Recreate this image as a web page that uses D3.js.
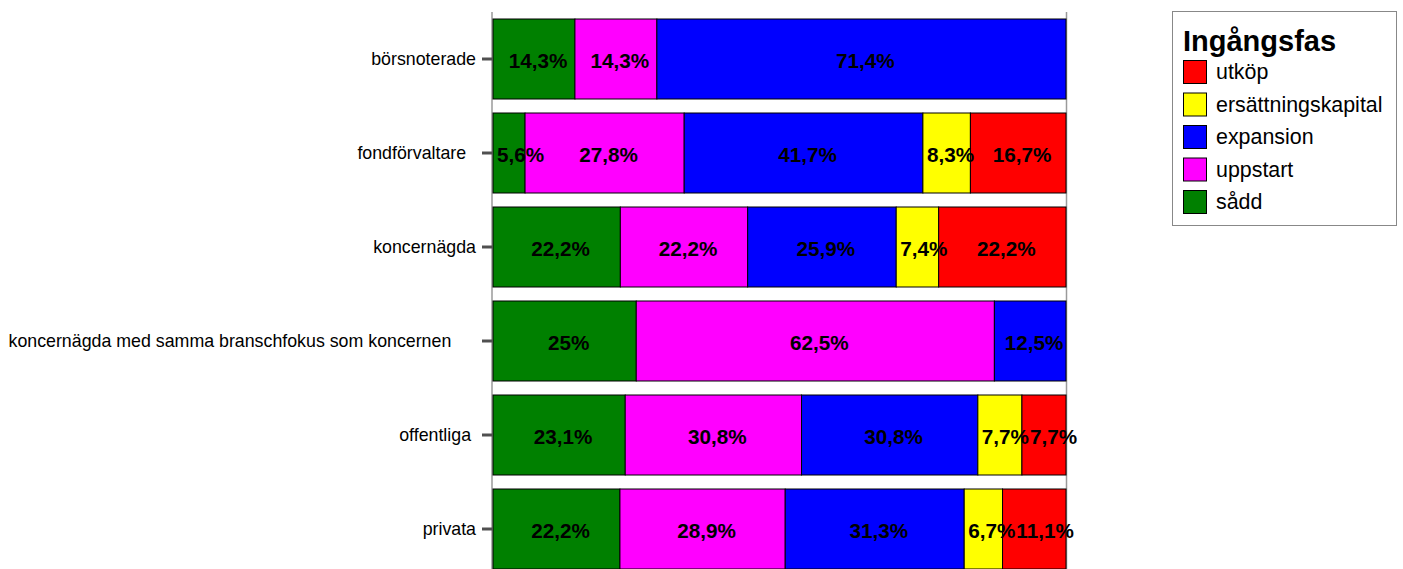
<!DOCTYPE html>
<html>
<head>
<meta charset="utf-8">
<script src="https://cdn.jsdelivr.net/npm/d3@7"></script>
<style>
  html, body { margin: 0; padding: 0; background: #fff; }
  svg { display: block; font-family: Arial, "Liberation Sans", Helvetica, sans-serif; }
  text { white-space: pre; }
</style>
</head>
<body>
<svg id="chart" width="1403" height="569"></svg>
<script>
// Categories (with the trailing padding their labels carry)
const categories = [
  "börsnoterade",
  "fondförvaltare  ",
  "koncernägda",
  "koncernägda med samma branschfokus som koncernen     ",
  "offentliga ",
  "privata"
];

// Phases, stacked left to right
const phases = ["sådd", "uppstart", "expansion", "ersättningskapital", "utköp"];
const phaseColors = ["#008000", "#ff00ff", "#0000ff", "#ffff00", "#ff0000"];

// Share (%) of each phase per category
const sadd        = [14.3,  5.6, 22.2, 25.0, 23.1, 22.2];
const uppstart    = [14.3, 27.8, 22.2, 62.5, 30.8, 28.9];
const expansion   = [71.4, 41.7, 25.9, 12.5, 30.8, 31.3];
const ersattning  = [ 0.0,  8.3,  7.4,  0.0,  7.7,  6.7];
const utkop       = [ 0.0, 16.7, 22.2,  0.0,  7.7, 11.1];

// Legend order (top to bottom)
const legendOrder = ["utköp", "ersättningskapital", "expansion", "uppstart", "sådd"];
const legendTitle = "Ingångsfas";

const seriesValues = [sadd, uppstart, expansion, ersattning, utkop];
const rows = categories.map((c, i) => {
  const r = { cat: c };
  phases.forEach((p, j) => { r[p] = seriesValues[j][i]; });
  return r;
});

const svg = d3.select("#chart");
const color = d3.scaleOrdinal().domain(phases).range(phaseColors);

const x = d3.scaleLinear().domain([0, 1]).range([493, 1066]);
const y = d3.scaleBand().domain(categories).range([12, 576])
  .paddingInner(14 / 94).paddingOuter(7 / 94);

const stack = d3.stack().keys(phases).offset(d3.stackOffsetExpand);
const layers = stack(rows);

// frame lines
svg.append("line").attr("x1", 492).attr("x2", 492).attr("y1", 12).attr("y2", 569)
  .attr("stroke", "#9a9a9a").attr("stroke-width", 1.5);
svg.append("line").attr("x1", 1066.5).attr("x2", 1066.5).attr("y1", 12).attr("y2", 569)
  .attr("stroke", "#9a9a9a").attr("stroke-width", 1.5);

// bars
const g = svg.append("g");
layers.forEach(layer => {
  g.append("g").selectAll("rect")
    .data(layer.filter(d => d[1] - d[0] > 0))
    .join("rect")
    .attr("x", d => x(d[0]))
    .attr("y", d => y(d.data.cat))
    .attr("width", d => x(d[1]) - x(d[0]))
    .attr("height", y.bandwidth())
    .attr("fill", color(layer.key))
    .attr("stroke", "#000")
    .attr("stroke-width", 1);
});

// category axis
const axis = d3.axisLeft(y).tickSize(11).tickPadding(6);
const ax = svg.append("g").attr("transform", "translate(493,0)").call(axis);
ax.select(".domain").remove();
ax.selectAll(".tick line").attr("stroke", "#505050").attr("stroke-width", 3);
ax.selectAll(".tick text")
  .attr("font-size", 17.8).attr("fill", "#000")
  .attr("font-family", "Arial, 'Liberation Sans', sans-serif");

// value labels
const fmt = v => String(v).replace(".", ",") + "%";
const labelLayer = svg.append("g");
rows.forEach((r, i) => {
  let prevRight = -Infinity;
  const cy = y(r.cat) + y.bandwidth() / 2;
  layers.forEach(layer => {
    const d = layer[i];
    if (d[1] - d[0] <= 0) return;
    const x0 = x(d[0]), x1 = x(d[1]);
    const t = labelLayer.append("text")
      .attr("font-size", 20.7).attr("font-weight", "bold").attr("fill", "#000")
      .attr("y", cy + 9)
      .text(fmt(r[layer.key]));
    const w = t.node().getComputedTextLength();
    const left = Math.max((x0 + x1) / 2 - w / 2 + 4, x0 + 4, prevRight + 1);
    t.attr("x", left);
    prevRight = left + w;
  });
});

// legend
const lg = svg.append("g");
lg.append("rect").attr("x", 1172.5).attr("y", 11.5).attr("width", 224).attr("height", 214)
  .attr("fill", "#fff").attr("stroke", "#888").attr("stroke-width", 1);
lg.append("text").attr("x", 1183).attr("y", 51)
  .attr("font-size", 29).attr("font-weight", "bold").attr("fill", "#000")
  .text(legendTitle);
const ly = d3.scalePoint().domain(legendOrder).range([60, 190]);
legendOrder.forEach(k => {
  lg.append("rect").attr("x", 1183.5).attr("y", ly(k) + 0.5).attr("width", 23).attr("height", 23)
    .attr("fill", color(k)).attr("stroke", "#000").attr("stroke-width", 1);
  lg.append("text").attr("x", 1216).attr("y", ly(k) + 19)
    .attr("font-size", 21.4).attr("fill", "#000").text(k);
});
</script>
</body>
</html>
